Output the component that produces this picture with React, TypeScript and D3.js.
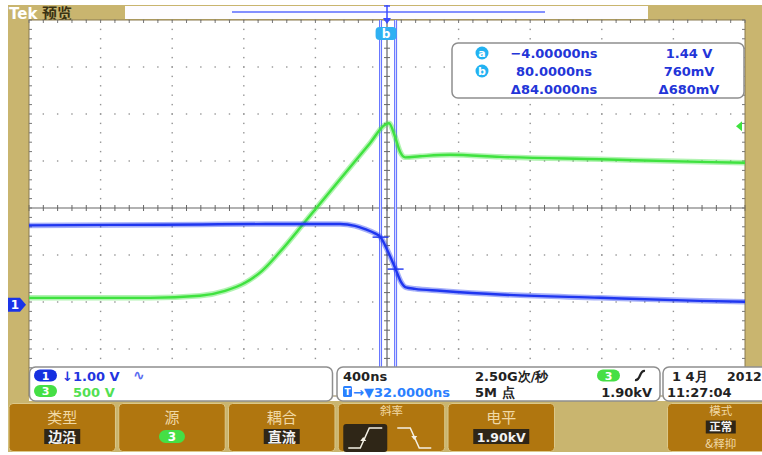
import React, { useRef, useEffect } from 'react';
import * as d3 from 'd3';

// channel 1 (blue, 1.00 V/div)
const ch1TimeNs = [-1968, -1500, -1000, -600, -231, -147, -91, -35, -4, 38, 80, 110, 138, 188, 328, 663, 1222, 1781, 2032];
const ch1Volts = [1.69, 1.70, 1.71, 1.72, 1.72, 1.68, 1.61, 1.52, 1.44, 1.13, 0.76, 0.49, 0.37, 0.34, 0.30, 0.22, 0.15, 0.085, 0.064];

// channel 3 (green, 500 V/div)
const ch3TimeNs = [-1968, -1292, -1013, -873, -761, -666, -566, -426, -231, -63, 21, 43, 77, 105, 133, 216, 384, 663, 1222, 1781, 2032];
const ch3KiloVolts = [0.074, 0.074, 0.096, 0.149, 0.234, 0.362, 0.564, 0.883, 1.334, 1.719, 1.915, 1.931, 1.787, 1.628, 1.569, 1.58, 1.596, 1.574, 1.548, 1.521, 1.511];

const cursorTimesNs = [-4, 80];
const cursorVolts = [1.44, 0.76];
const cursorLabels = ['a', 'b'];
const readoutTimes = ['\u22124.00000ns', '80.0000ns', '\u039484.0000ns'];
const readoutVolts = ['1.44 V', '760mV', '\u0394680mV'];

const buttonLabels = ['类型', '源', '耦合', '斜率', '电平', '', '模式'];
const buttonValues = ['边沿', '3', '直流', '', '1.90kV', '', '正常'];

const TAN = '#c9b56f';
const BTN = '#b0760f';
const BLUE = '#1f36f0';
const GREEN = '#3fe23f';
const SANS = '"DejaVu Sans", sans-serif';
const CJK = '"Noto Sans CJK SC", sans-serif';

const App = () => {
  const svgRef = useRef<SVGSVGElement>(null);

  useEffect(() => {
    document.body.style.margin = '0';
    const svg = d3.select(svgRef.current);
    svg.selectAll('*').remove();

    const W = 762, H = 455;
    const gx0 = 29, gx1 = 745, gy0 = 20, gy1 = 396;

    // scales: time in ns, vertical in divisions
    const x = d3.scaleLinear().domain([32 - 2000, 32 + 2000]).range([gx0, gx1]);
    const xDiv = d3.scaleLinear().domain([-5, 5]).range([gx0, gx1]);
    const yDiv = d3.scaleLinear().domain([-4, 4]).range([gy1, gy0]);
    const chPos = -2.06; // ground position of both channels (div)
    const y1 = (v: number) => yDiv(v / 1.0 + chPos);
    const y3 = (kv: number) => yDiv(kv / 0.5 + chPos);

    svg.append('rect').attr('width', W).attr('height', H).attr('fill', '#fff');
    svg.append('rect').attr('x', 8).attr('y', 5).attr('width', W - 8).attr('height', 447).attr('fill', TAN);

    // top bar
    svg.append('text').attr('x', 9).attr('y', 19).text('Tek')
      .attr('font-family', SANS).attr('font-weight', 'bold').attr('font-size', 15).attr('fill', '#fff');
    svg.append('text').attr('x', 42).attr('y', 19).text('预览')
      .attr('font-family', CJK).attr('font-weight', 'bold').attr('font-size', 15).attr('fill', '#3a3212');
    svg.append('rect').attr('x', 125).attr('y', 6).attr('width', 523).attr('height', 13).attr('fill', '#fdfcff');
    svg.append('line').attr('x1', 232).attr('x2', 545).attr('y1', 12).attr('y2', 12)
      .attr('stroke', '#5a6cff').attr('stroke-width', 1.3);

    // screen
    const scr = svg.append('g');
    scr.append('rect').attr('x', gx0).attr('y', gy0).attr('width', gx1 - gx0).attr('height', 401 - gy0).attr('fill', '#fff');

    const grid = scr.append('g');
    const minor = d3.range(-25, 26).map(i => i / 5);
    const minorY = d3.range(-20, 21).map(i => i / 5);
    // dotted grid lines
    d3.range(-4, 5).forEach(d => {
      if (d === 0) return;
      grid.selectAll(null).data(minor.filter(m => Math.abs(m) < 5)).enter().append('rect')
        .attr('x', m => xDiv(m) - 0.7).attr('y', yDiv(d) - 0.7).attr('width', 1.4).attr('height', 1.4).attr('fill', '#949494');
    });
    d3.range(-5, 6).forEach(d => {
      if (d === 0 || Math.abs(d) === 5) return;
      grid.selectAll(null).data(minorY.filter(m => Math.abs(m) < 4)).enter().append('rect')
        .attr('x', xDiv(d) - 0.7).attr('y', m => yDiv(m) - 0.7).attr('width', 1.4).attr('height', 1.4).attr('fill', '#949494');
    });
    // center axes
    grid.append('line').attr('x1', gx0).attr('x2', gx1).attr('y1', yDiv(0)).attr('y2', yDiv(0)).attr('stroke', '#666').attr('stroke-width', 1.2);
    grid.append('line').attr('x1', xDiv(0)).attr('x2', xDiv(0)).attr('y1', gy0).attr('y2', gy1).attr('stroke', '#666').attr('stroke-width', 1.2);
    grid.selectAll(null).data(minor).enter().append('line')
      .attr('x1', m => xDiv(m)).attr('x2', m => xDiv(m)).attr('y1', yDiv(0) - 3).attr('y2', yDiv(0) + 3).attr('stroke', '#666');
    grid.selectAll(null).data(minorY).enter().append('line')
      .attr('y1', m => yDiv(m)).attr('y2', m => yDiv(m)).attr('x1', xDiv(0) - 3).attr('x2', xDiv(0) + 3).attr('stroke', '#666');
    // border with ticks
    grid.append('rect').attr('x', gx0).attr('y', gy0).attr('width', gx1 - gx0).attr('height', gy1 - gy0)
      .attr('fill', 'none').attr('stroke', '#8a7a50').attr('stroke-width', 1);
    grid.selectAll(null).data(minor).enter().append('line')
      .attr('x1', m => xDiv(m)).attr('x2', m => xDiv(m)).attr('y1', gy0).attr('y2', gy0 + 3).attr('stroke', '#777');
    grid.selectAll(null).data(minorY).enter().append('line')
      .attr('y1', m => yDiv(m)).attr('y2', m => yDiv(m)).attr('x1', gx0).attr('x2', gx0 + 3).attr('stroke', '#777');
    grid.selectAll(null).data(minorY).enter().append('line')
      .attr('y1', m => yDiv(m)).attr('y2', m => yDiv(m)).attr('x1', gx1 - 3).attr('x2', gx1).attr('stroke', '#777');

    // cursors
    const cur = scr.append('g');
    cursorTimesNs.forEach(t => {
      cur.append('line').attr('x1', x(t)).attr('x2', x(t)).attr('y1', gy0).attr('y2', gy1)
        .attr('stroke', '#6070ff').attr('stroke-width', 3);
      cur.append('line').attr('x1', x(t)).attr('x2', x(t)).attr('y1', gy0).attr('y2', gy1)
        .attr('stroke', '#e0e3ff').attr('stroke-width', 1);
    });

    // traces
    const line3 = d3.line<number>().x((d, i) => x(ch3TimeNs[i])).y(d => y3(d)).curve(d3.curveMonotoneX);
    const line1 = d3.line<number>().x((d, i) => x(ch1TimeNs[i])).y(d => y1(d)).curve(d3.curveMonotoneX);
    [[line3(ch3KiloVolts), GREEN], [line1(ch1Volts), BLUE]].forEach(([p, c]) => {
      scr.append('path').attr('d', p as string).attr('fill', 'none').attr('stroke', c as string)
        .attr('stroke-width', 5.5).attr('stroke-opacity', 0.4).attr('stroke-linejoin', 'round');
      scr.append('path').attr('d', p as string).attr('fill', 'none').attr('stroke', c as string)
        .attr('stroke-width', 2.4).attr('stroke-linejoin', 'round');
    });

    // cursor hit marks on ch1
    cursorTimesNs.forEach((t, i) => {
      cur.append('line').attr('x1', x(t) - 8).attr('x2', x(t) + 8).attr('y1', y1(cursorVolts[i])).attr('y2', y1(cursorVolts[i]))
        .attr('stroke', BLUE).attr('stroke-width', 1.4);
    });

    // cursor b tab
    const xb = x(cursorTimesNs[1]);
    svg.append('rect').attr('x', xb - 20).attr('y', 27).attr('width', 21).attr('height', 13).attr('rx', 4).attr('fill', '#2fb0f2');
    svg.append('text').attr('x', xb - 9.5).attr('y', 38).attr('text-anchor', 'middle').text(cursorLabels[1])
      .attr('font-family', SANS).attr('font-weight', 'bold').attr('font-size', 12).attr('fill', '#fff');

    // trigger position marker at top
    const xt = xDiv(0);
    svg.append('line').attr('x1', xt).attr('x2', xt).attr('y1', 5).attr('y2', 22).attr('stroke', '#3a4cff').attr('stroke-width', 1.5);
    svg.append('line').attr('x1', xt - 3).attr('x2', xt + 3).attr('y1', 6).attr('y2', 6).attr('stroke', '#3a4cff').attr('stroke-width', 1.5);
    svg.append('path').attr('d', `M${xt - 4},18 L${xt + 4},18 L${xt},24 Z`).attr('fill', '#3a4cff');

    // ground marker for ch1 (left)
    const gy = yDiv(chPos);
    svg.append('path').attr('d', `M8,${gy - 7} L20,${gy - 7} L26,${gy} L20,${gy + 7} L8,${gy + 7} Z`).attr('fill', '#1a34e8');
    svg.append('text').attr('x', 15).attr('y', gy + 4.5).attr('text-anchor', 'middle').text('1')
      .attr('font-family', SANS).attr('font-weight', 'bold').attr('font-size', 12).attr('fill', '#fff');

    // trigger level marker (right)
    const tl = y3(1.9);
    svg.append('path').attr('d', `M736,${tl} L742,${tl - 5} L742,${tl + 5} Z`).attr('fill', GREEN);

    // cursor readout box
    const rb = svg.append('g');
    rb.append('rect').attr('x', 452).attr('y', 43).attr('width', 292).attr('height', 55).attr('rx', 6)
      .attr('fill', '#fff').attr('stroke', '#8e8e8e').attr('stroke-width', 1.5);
    const rows = [58, 76, 94];
    readoutTimes.forEach((t, i) => {
      rb.append('text').attr('x', 554).attr('y', rows[i]).attr('text-anchor', 'middle').text(t)
        .attr('font-family', SANS).attr('font-weight', 'bold').attr('font-size', 13).attr('fill', '#2335d8');
      rb.append('text').attr('x', 689).attr('y', rows[i]).attr('text-anchor', 'middle').text(readoutVolts[i])
        .attr('font-family', SANS).attr('font-weight', 'bold').attr('font-size', 13).attr('fill', '#2335d8');
    });
    cursorLabels.forEach((l, i) => {
      rb.append('circle').attr('cx', 482).attr('cy', rows[i] - 5).attr('r', 6.5).attr('fill', '#22b2f2');
      rb.append('text').attr('x', 482).attr('y', rows[i] - 1).attr('text-anchor', 'middle').text(l)
        .attr('font-family', SANS).attr('font-weight', 'bold').attr('font-size', 11).attr('fill', '#fff');
    });

    // info bar
    const ib = svg.append('g');
    const box = (x0: number, w: number) => ib.append('rect').attr('x', x0).attr('y', 367).attr('width', w).attr('height', 34)
      .attr('rx', 6).attr('fill', '#fff').attr('stroke', '#8e8e8e').attr('stroke-width', 1.5);
    box(29.5, 303); box(337, 323); box(663, 120);
    const txt = (x0: number, y0: number, s: string, fill: string, font = SANS, anchor = 'start', size = 13) =>
      ib.append('text').attr('x', x0).attr('y', y0).text(s).attr('text-anchor', anchor)
        .attr('font-family', font).attr('font-weight', 'bold').attr('font-size', size).attr('fill', fill);
    const pill = (x0: number, y0: number, s: string, fill: string) => {
      ib.append('rect').attr('x', x0).attr('y', y0).attr('width', 23).attr('height', 12).attr('rx', 6).attr('fill', fill);
      ib.append('text').attr('x', x0 + 11.5).attr('y', y0 + 10).attr('text-anchor', 'middle').text(s)
        .attr('font-family', SANS).attr('font-weight', 'bold').attr('font-size', 11).attr('fill', '#fff');
    };
    pill(34, 369.5, '1', '#1530e0');
    txt(62, 381, '\u21931.00 V', '#2234e0');
    txt(133, 380, '\u223F', '#5a6cf0', SANS, 'start', 14);
    pill(34, 385, '3', '#45df45');
    txt(73, 397, '500 V', '#52e052');
    txt(343, 381, '400ns', '#222');
    ib.append('rect').attr('x', 343).attr('y', 386).attr('width', 9).attr('height', 11).attr('rx', 1.5).attr('fill', '#2a80ff');
    ib.append('text').attr('x', 347.5).attr('y', 395).attr('text-anchor', 'middle').text('T')
      .attr('font-family', SANS).attr('font-weight', 'bold').attr('font-size', 9).attr('fill', '#fff');
    txt(353, 397, '\u2192\u25BC32.0000ns', '#2a80ff');
    txt(475, 381, '2.50G次/秒', '#222');
    txt(475, 397, '5M 点', '#222');
    pill(597, 369.5, '3', '#45df45');
    ib.append('path').attr('d', 'M635,380 C641,381 639,370 645,371').attr('fill', 'none').attr('stroke', '#222').attr('stroke-width', 2.2);
    txt(652, 397, '1.90kV', '#222', SANS, 'end');
    txt(672, 381, '1 4月', '#222');
    txt(727, 381, '2012', '#222', SANS, 'start', 12.5);
    txt(667, 397, '11:27:04', '#222');

    // soft-key buttons
    const band = d3.scaleBand<number>().domain(d3.range(buttonLabels.length)).range([9, 774]).paddingInner(0.03);
    const bt = svg.append('g');
    buttonLabels.forEach((lab, i) => {
      if (!lab) return;
      const bx = band(i) as number, bw = band.bandwidth(), cx = bx + bw / 2;
      bt.append('rect').attr('x', bx).attr('y', 403.5).attr('width', bw).attr('height', 48).attr('rx', 4)
        .attr('fill', BTN).attr('stroke', '#dcc88a').attr('stroke-width', 1);
      const val = buttonValues[i];
      const small = lab === '斜率' || lab === '模式';
      bt.append('text').attr('x', cx).attr('y', small ? 414.5 : 423).attr('text-anchor', 'middle').text(lab)
        .attr('font-family', CJK).attr('font-size', small ? 11.5 : 15).attr('fill', '#f0d9a6');
      if (lab === '源') {
        bt.append('rect').attr('x', cx - 13).attr('y', 430).attr('width', 26).attr('height', 13).attr('rx', 6.5).attr('fill', '#45df45');
        bt.append('text').attr('x', cx).attr('y', 441).attr('text-anchor', 'middle').text(val)
          .attr('font-family', SANS).attr('font-weight', 'bold').attr('font-size', 12).attr('fill', '#fff');
      } else if (lab === '斜率') {
        bt.append('rect').attr('x', bx + 5).attr('y', 424).attr('width', 44).attr('height', 28).attr('rx', 3).attr('fill', '#2f2617');
        bt.append('path').attr('d', `M${bx + 10},${448} L${bx + 22},${448} L${bx + 31},${428} L${bx + 44},${428}`)
          .attr('fill', 'none').attr('stroke', '#f4f0e4').attr('stroke-width', 1.5);
        bt.append('path').attr('d', `M${bx + 22},${441} L${bx + 28},${441} L${bx + 25},${437} Z`).attr('fill', '#f4f0e4');
        bt.append('path').attr('d', `M${bx + 59},${428} L${bx + 72},${428} L${bx + 81},${448} L${bx + 93},${448}`)
          .attr('fill', 'none').attr('stroke', '#f4f0e4').attr('stroke-width', 1.5);
        bt.append('path').attr('d', `M${bx + 73},${436} L${bx + 79},${436} L${bx + 76},${440} Z`).attr('fill', '#f4f0e4');
      } else if (val) {
        const isCjk = /[\u4e00-\u9fff]/.test(val);
        const mode = lab === '模式';
        const vw = isCjk ? (mode ? 30 : 36) : 56;
        const vy = mode ? 420.5 : 429;
        const vh = mode ? 13 : 15;
        bt.append('rect').attr('x', cx - vw / 2).attr('y', vy).attr('width', vw).attr('height', vh).attr('fill', '#2f2617');
        bt.append('text').attr('x', cx).attr('y', mode ? 431 : vy + vh - 2.5).attr('text-anchor', 'middle').text(val)
          .attr('font-family', isCjk ? CJK : SANS).attr('font-weight', 'bold')
          .attr('font-size', mode ? 11.5 : isCjk ? 14 : 12.5).attr('fill', '#f2f2f2');
        if (mode) {
          bt.append('text').attr('x', cx).attr('y', 448).attr('text-anchor', 'middle').text('&释抑')
            .attr('font-family', CJK).attr('font-size', 11.5).attr('fill', '#f0d9a6');
        }
      }
    });
  }, []);

  return <svg ref={svgRef} width={762} height={455} style={{ display: 'block' }}></svg>;
};

export default App;
